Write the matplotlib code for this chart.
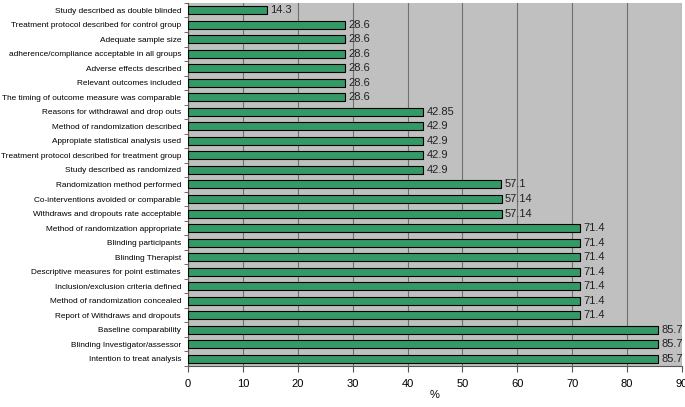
import numpy as np
import matplotlib
matplotlib.use("Agg")
from matplotlib import pyplot as plt

plt.rcParams["font.family"] = ["Liberation Sans", "DejaVu Sans"]

# top to bottom as in the figure
criteria = [
    "Study described as double blinded",
    "Treatment protocol described for control group",
    "Adequate sample size",
    "adherence/compliance acceptable in all groups",
    "Adverse effects described",
    "Relevant outcomes included",
    "The timing of outcome measure was comparable",
    "Reasons for withdrawal and drop outs",
    "Method of randomization described",
    "Appropiate statistical analysis used",
    "Treatment protocol described for treatment group",
    "Study described as randomized",
    "Randomization method performed",
    "Co-interventions avoided or comparable",
    "Withdraws and dropouts rate acceptable",
    "Method of randomization appropriate",
    "Blinding participants",
    "Blinding Therapist",
    "Descriptive measures for point estimates",
    "Inclusion/exclusion criteria defined",
    "Method of randomization concealed",
    "Report of Withdraws and dropouts",
    "Baseline comparability",
    "Blinding Investigator/assessor",
    "Intention to treat analysis",
]
percent = [14.3, 28.6, 28.6, 28.6, 28.6, 28.6, 28.6, 42.85, 42.9, 42.9, 42.9, 42.9,
           57.1, 57.14, 57.14, 71.4, 71.4, 71.4, 71.4, 71.4, 71.4, 71.4, 85.7, 85.7, 85.7]
value_labels = ["14.3", "28.6", "28.6", "28.6", "28.6", "28.6", "28.6", "42.85", "42.9",
                "42.9", "42.9", "42.9", "57.1", "57.14", "57.14", "71.4", "71.4", "71.4",
                "71.4", "71.4", "71.4", "71.4", "85.7", "85.7", "85.7"]

fig = plt.figure(figsize=(6.85, 4.07), dpi=100)
ax = fig.add_axes([0.2745, 0.1007, 0.721, 0.892])
ax.set_facecolor("#c0c0c0")

y = np.arange(len(criteria))
ax.barh(y, percent, height=0.55, color="#339966", edgecolor="black", linewidth=0.8, zorder=3)
for yi, v, lab in zip(y, percent, value_labels):
    ax.text(v + 0.6, yi, lab, va="center", ha="left", fontsize=8, color="#222222", zorder=4)

ax.set_ylim(len(criteria) - 0.5, -0.5)
ax.set_yticks(y)
ax.set_yticklabels(criteria, fontsize=5.95)
ax.set_yticks(np.arange(len(criteria) + 1) - 0.5, minor=True)
ax.tick_params(axis="y", which="major", length=0, pad=5)
ax.tick_params(axis="y", which="minor", length=3, color="#555555")

ax.set_xlim(0, 90)
ax.set_xticks(np.arange(0, 91, 10))
ax.tick_params(axis="x", labelsize=8, length=4, color="#555555", pad=5)
ax.set_xlabel("%", fontsize=8, labelpad=1)
ax.xaxis.grid(True, color="#707070", linewidth=0.8, zorder=0)
ax.set_axisbelow(True)

for s in ["top", "right"]:
    ax.spines[s].set_visible(False)
for s in ["left", "bottom"]:
    ax.spines[s].set_color("#555555")

fig.savefig("out.png", dpi=100)
